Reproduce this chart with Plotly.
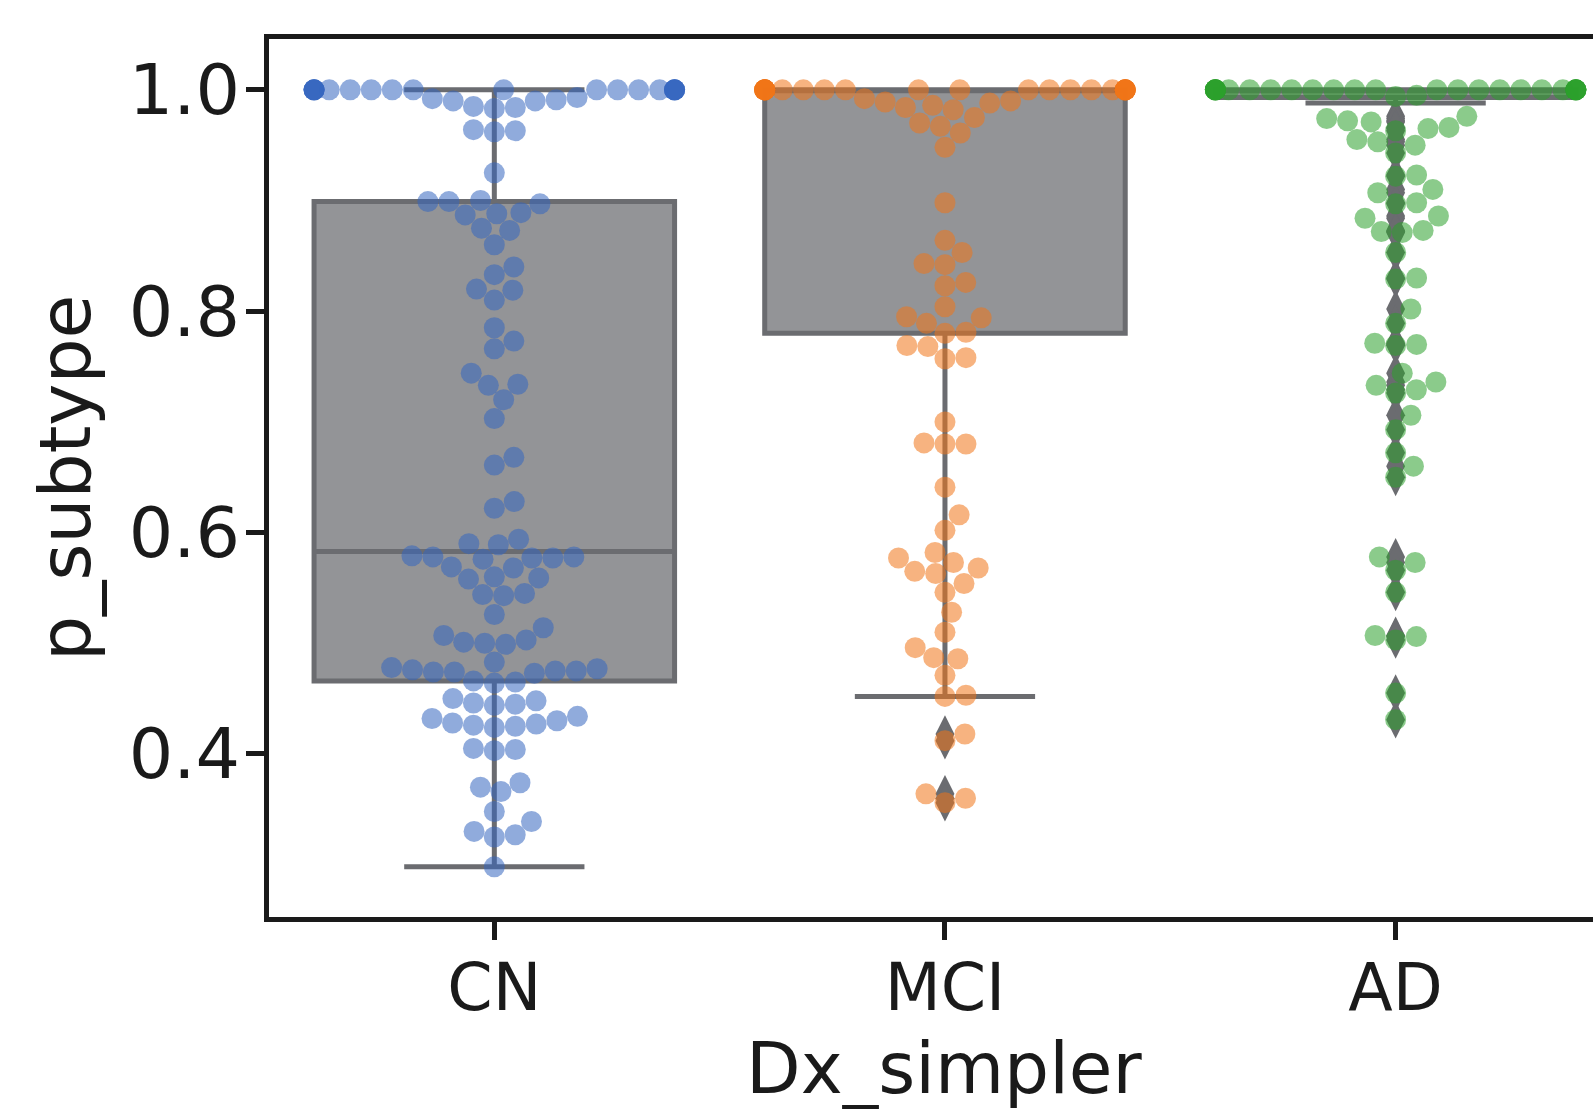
import numpy as np
import plotly.graph_objects as go

# ---------------- data ----------------
categories = ["CN", "MCI", "AD"]

cn_values = ([1.0] * 20 +
             [0.993, 0.992, 0.991, 0.99, 0.99, 0.985, 0.984, 0.983, 0.964, 0.963, 0.962,
              0.925, 0.9, 0.899, 0.899, 0.897, 0.889, 0.888, 0.887, 0.875, 0.873, 0.86,
              0.84, 0.833, 0.82, 0.819, 0.81, 0.785, 0.773, 0.766, 0.744, 0.734, 0.733,
              0.72, 0.703, 0.668, 0.661, 0.628, 0.622, 0.594, 0.59, 0.589,
              0.579, 0.578, 0.578, 0.577, 0.577, 0.576, 0.569, 0.568, 0.56, 0.559, 0.558,
              0.545, 0.544, 0.543, 0.526, 0.514, 0.507, 0.503, 0.501, 0.5, 0.499,
              0.483, 0.478, 0.477, 0.476, 0.475, 0.475, 0.474, 0.474, 0.473,
              0.466, 0.465, 0.464, 0.45, 0.448, 0.446, 0.445, 0.444,
              0.434, 0.432, 0.43, 0.428, 0.427, 0.426, 0.425, 0.424,
              0.405, 0.404, 0.403, 0.374, 0.37, 0.366, 0.348,
              0.339, 0.33, 0.327, 0.325, 0.298])

mci_values = ([1.0] * 26 +
              [0.992, 0.99, 0.989, 0.988, 0.986, 0.984, 0.982, 0.975, 0.97, 0.967,
               0.961, 0.948, 0.898, 0.864, 0.853, 0.843, 0.842, 0.826, 0.823, 0.804,
               0.795, 0.794, 0.789, 0.781, 0.78, 0.769, 0.768, 0.758, 0.757, 0.7,
               0.681, 0.68, 0.68, 0.641, 0.616, 0.602, 0.582, 0.577, 0.573,
               0.568, 0.565, 0.563, 0.554, 0.546, 0.528, 0.51, 0.496, 0.487, 0.486,
               0.471, 0.453, 0.452, 0.418, 0.412, 0.364, 0.36, 0.356])

ad_values = ([1.0] * 28 +
             [0.995, 0.994, 0.976, 0.974, 0.972, 0.971, 0.966, 0.965, 0.963,
              0.955, 0.953, 0.95, 0.943, 0.923, 0.922, 0.91, 0.907, 0.898, 0.897,
              0.886, 0.884, 0.873, 0.872, 0.871, 0.853, 0.83, 0.829, 0.802, 0.789,
              0.771, 0.77, 0.769, 0.744, 0.736, 0.733, 0.729, 0.726, 0.706, 0.693,
              0.672, 0.66, 0.65, 0.578, 0.573, 0.566, 0.546, 0.507, 0.506, 0.503,
              0.455, 0.431])

# box statistics (CN, MCI, AD)
box_q1 = [0.466, 0.780, 0.993]
box_median = [0.583, 1.0, 1.0]
box_q3 = [0.899, 1.0, 1.0]
box_lower = [0.298, 0.452, 0.988]
box_upper = [1.0, 1.0, 1.0]

point_colors = ["#3566c0", "#f07418", "#2ca02c"]

x_title = "Dx_simpler"
y_title = "p_subtype"

# ---------------- geometry ----------------
W, H = 1593, 1109
M_L, M_R, M_T, M_B = 269, 0, 39, 192
X_RANGE = [-0.5, 2.438]
Y_RANGE = [0.2527, 1.0459]
PX_X = (W - M_L - M_R) / (X_RANGE[1] - X_RANGE[0])
PX_Y = (H - M_T - M_B) / (Y_RANGE[1] - Y_RANGE[0])
DOT = 21.0           # marker diameter, px
HALF_WIDTH = 0.4     # swarm gutter


def swarm_offsets(values):
    vals = np.asarray(values, float)
    order = np.argsort(vals, kind="stable")
    placed_x, placed_y = [], []
    offs = np.zeros(len(vals))
    for idx in order:
        yv = vals[idx] * PX_Y
        neigh = [(px, py) for px, py in zip(placed_x, placed_y) if abs(py - yv) < DOT]
        cands = [0.0]
        for px, py in neigh:
            dx = np.sqrt(max(DOT ** 2 - (py - yv) ** 2, 0.0))
            cands += [px - dx, px + dx]
        cands = sorted(cands, key=lambda c: (abs(c), -c))
        chosen = cands[-1]
        for c in cands:
            if all((c - px) ** 2 + (yv - py) ** 2 >= DOT ** 2 - 1e-6 for px, py in neigh):
                chosen = c
                break
        placed_x.append(chosen)
        placed_y.append(yv)
        offs[idx] = chosen
    offs = offs / PX_X
    return np.clip(offs, -HALF_WIDTH, HALF_WIDTH)


groups = [cn_values, mci_values, ad_values]

fig = go.Figure()

BOX_FILL = "#939497"
BOX_LINE = "#6b6c70"

fig.add_trace(go.Box(
    x=[0, 1, 2], q1=box_q1, median=box_median, q3=box_q3,
    lowerfence=box_lower, upperfence=box_upper,
    width=0.8, whiskerwidth=0.5, fillcolor=BOX_FILL,
    line=dict(color=BOX_LINE, width=5), boxpoints=False,
    showlegend=False, hoverinfo="skip"))

# fliers
for i, vals in enumerate(groups):
    fl = [v for v in vals if v < box_lower[i] or v > box_upper[i]]
    if fl:
        fig.add_trace(go.Scatter(
            x=[i] * len(fl), y=fl, mode="markers",
            marker=dict(symbol="diamond-tall", size=27, color=BOX_LINE, line=dict(width=0)),
            showlegend=False, hoverinfo="skip"))

# swarm points
for i, vals in enumerate(groups):
    xo = swarm_offsets(vals) + i
    fig.add_trace(go.Scatter(
        x=xo, y=vals, mode="markers",
        marker=dict(size=DOT, color=point_colors[i], opacity=0.55, line=dict(width=0)),
        showlegend=False, hoverinfo="skip"))

FONT = "DejaVu Sans"
fig.update_layout(
    width=W, height=H,
    margin=dict(l=M_L, r=M_R, t=M_T, b=M_B, pad=0),
    paper_bgcolor="white", plot_bgcolor="white",
    font=dict(family=FONT, color="#1a1a1a"),
    xaxis=dict(range=X_RANGE, tickvals=[0, 1, 2], ticktext=categories,
               ticks="outside", ticklen=18, tickwidth=5, tickcolor="#1a1a1a",
               ticklabelstandoff=-8,
               showline=True, linewidth=5, linecolor="#1a1a1a", mirror=True,
               showgrid=False, zeroline=False, tickfont=dict(size=65, family=FONT)),
    yaxis=dict(range=Y_RANGE, tickvals=[0.4, 0.6, 0.8, 1.0],
               ticktext=["0.4", "0.6", "0.8", "1.0"],
               ticks="outside", ticklen=18, tickwidth=5, tickcolor="#1a1a1a",
               ticklabelstandoff=-8,
               showline=True, linewidth=5, linecolor="#1a1a1a",
               showgrid=False, zeroline=False, tickfont=dict(size=70, family=FONT),
               title=dict(text=y_title, font=dict(size=71, family=FONT), standoff=16)),
)

# x-axis title centred on the full (uncropped) axes, i.e. over the middle category
fig.add_annotation(text=x_title, xref="x", x=1, yref="paper",
                   y=-(1068 - (H - M_B)) / (H - M_T - M_B),
                   xanchor="center", yanchor="middle", showarrow=False,
                   font=dict(size=71, family=FONT, color="#1a1a1a"))

fig.write_html("out.html")
